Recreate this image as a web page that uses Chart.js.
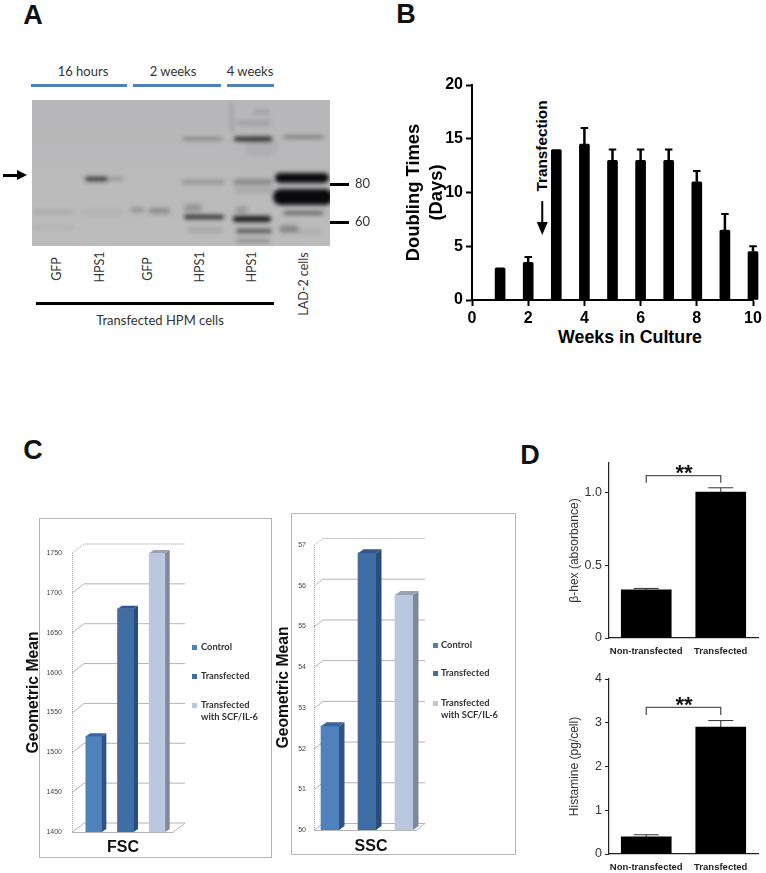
<!DOCTYPE html>
<html>
<head>
<meta charset="utf-8">
<script src="https://cdn.jsdelivr.net/npm/chart.js@4"></script>
<style>
	html, body { margin: 0; padding: 0; background: #fff; }
	#page { position: relative; width: 766px; height: 873px; overflow: hidden; }
	#page canvas { position: absolute; }
	.txt { position: absolute; white-space: nowrap; line-height: 1; }
	.box { position: absolute; box-sizing: border-box; }
</style>
</head>
<body>
<div id="page"></div>
<script>
// Panel A: blot bands, positions
const blotLanes = ["GFP", "HPS1", "GFP", "HPS1", "HPS1", "LAD-2 cells"];
const sizeMarkers = ["80", "60"];
const sizeMarkerPos = [84, 122];
const bandStart = [55, 73, 101, 120, 3, 3, 53, 152, 152, 154, 156, 158, 204, 208, 223, 204, 206, 204, 206, 206, 206, 253, 248, 249, 253, 251, 268, 223];
const bandEnd = [73, 90, 110, 135, 40, 40, 88, 189, 190, 190, 166, 188, 238, 236, 236, 238, 238, 236, 238, 236, 213, 290, 292, 293, 290, 263, 288, 236];
const bandPos = [79, 79, 110, 111, 112, 127, 112, 39, 82, 117, 108, 130, 39, 23, 12, 82, 90, 119, 131, 141, 110, 37, 78, 97, 113, 129, 132, 46];
const bandDensity = [0.8, 0.35, 0.22, 0.25, 0.09, 0.06, 0.05, 0.5, 0.22, 0.85, 0.2, 0.12, 0.9, 0.12, 0.14, 0.3, 0.1, 0.9, 0.6, 0.25, 0.2, 0.4, 1, 1, 0.6, 0.3, 0.07, 0.06];
const bandSpread = [4, 2, 5, 6, 5, 4, 5, 2, 4, 4, 8, 5, 4, 6, 4, 5, 6, 6, 4, 4, 6, 3, 10, 16, 3, 7, 6, 20];
const speckleX = [199, 200, 199, 200, 200];
const speckleY = [6, 12, 18, 24, 30];

// Panel B
const weeks = [1, 2, 3, 4, 5, 6, 7, 8, 9, 10];
const doublingTimes = [3, 3.5, 14, 14.5, 13, 13, 13, 11, 6.5, 4.5];
const doublingTops = [null, 4, null, 16, 14, 14, 14, 12, 8, 5];

// Panel C
const legendLabels = ["Control", "Transfected", "Transfected\nwith SCF/IL-6"];
const fscValues = [1520, 1680, 1750];
const sscValues = [52.55, 56.8, 55.77];

// Panel D
const groupLabels = ["Non-transfected", "Transfected"];
const hexValues = [0.33, 1.0];
const hexTops = [0.34, 1.03];
const histamineValues = [0.39, 2.9];
const histamineTops = [0.44, 3.05];

const ARIAL = "'Liberation Sans', Arial, sans-serif";
const CALIBRI = "Lato, 'Open Sans', sans-serif";
const BAR_FRONT = ["#4f81bd", "#3f6ea5", "#b9c8e0"];
const BAR_SIDE = ["#30527f", "#2c4c7a", "#7f8898"];
const BAR_TOP = ["#3a659c", "#31568a", "#9aa3b3"];

const page = document.getElementById("page");

function addText(text, cx, cy, font, color, rotate) {
	const el = document.createElement("div");
	el.className = "txt";
	el.textContent = text;
	el.style.left = cx + "px";
	el.style.top = cy + "px";
	el.style.font = font;
	el.style.lineHeight = "1";
	el.style.color = color || "#222";
	el.style.transform = `translate(-50%,-50%) rotate(${rotate || 0}deg)`;
	page.appendChild(el);
}

function addBox(left, top, width, height, color, border) {
	const el = document.createElement("div");
	el.className = "box";
	el.style.left = left + "px";
	el.style.top = top + "px";
	el.style.width = width + "px";
	el.style.height = height + "px";
	if (color) el.style.background = color;
	if (border) el.style.border = border;
	page.appendChild(el);
	return el;
}

function addChart(left, top, width, height, config) {
	const canvas = document.createElement("canvas");
	canvas.width = width;
	canvas.height = height;
	canvas.style.left = left + "px";
	canvas.style.top = top + "px";
	canvas.style.width = width + "px";
	canvas.style.height = height + "px";
	page.appendChild(canvas);
	config.options.responsive = false;
	config.options.animation = false;
	return new Chart(canvas.getContext("2d"), config);
}

// Pins an axis to a set thickness so the plot area lands where it should
function pinAxis(size) {
	return scale => {
		if (scale.isHorizontal()) scale.height = size;
		else scale.width = size;
		scale.paddingTop = 0;
		scale.paddingBottom = 0;
		scale.paddingLeft = 0;
		scale.paddingRight = 0;
	};
}

// Grey membrane behind the blot, blur on the bands
const blotPlugin = {
	id: "blot",
	beforeDatasetsDraw(chart) {
		const { ctx, chartArea: a } = chart;
		const g = ctx.createLinearGradient(0, a.top, 0, a.bottom);
		g.addColorStop(0, "#b7b7b9");
		g.addColorStop(1, "#bcbcbc");
		ctx.fillStyle = g;
		ctx.fillRect(a.left, a.top, a.right - a.left, a.bottom - a.top);
		ctx.save();
		ctx.filter = "blur(2px)";
	},
	afterDatasetsDraw(chart) {
		chart.ctx.restore();
	},
};

// Error bars, upper side only, read from options.tops
const errorBarPlugin = {
	id: "errorBars",
	beforeDatasetsDraw(chart, args, opts) {
		if (!opts.tops) return;
		const { ctx, scales } = chart;
		ctx.save();
		ctx.strokeStyle = opts.color;
		chart.getDatasetMeta(0).data.forEach((bar, i) => {
			if (opts.tops[i] === null) return;
			const top = scales.y.getPixelForValue(opts.tops[i]);
			ctx.lineWidth = opts.stem;
			ctx.beginPath();
			ctx.moveTo(bar.x, bar.y);
			ctx.lineTo(bar.x, top);
			ctx.stroke();
			ctx.lineWidth = opts.cap;
			ctx.beginPath();
			ctx.moveTo(bar.x - opts.capWidth / 2, top);
			ctx.lineTo(bar.x + opts.capWidth / 2, top);
			ctx.stroke();
		});
		ctx.restore();
	},
};

// Significance bracket over the two bars in panel D
const bracketPlugin = {
	id: "bracket",
	afterDatasetsDraw(chart, args, opts) {
		if (opts.y === undefined) return;
		const { ctx, scales } = chart;
		const bars = chart.getDatasetMeta(0).data;
		const y = scales.y.getPixelForValue(opts.y);
		const leg = scales.y.getPixelForValue(opts.legY);
		ctx.save();
		ctx.strokeStyle = "#555";
		ctx.lineWidth = 1.3;
		ctx.beginPath();
		ctx.moveTo(bars[0].x, leg);
		ctx.lineTo(bars[0].x, y);
		ctx.lineTo(bars[1].x, y);
		ctx.lineTo(bars[1].x, leg);
		ctx.stroke();
		ctx.fillStyle = "#111";
		ctx.font = "bold 22px " + ARIAL;
		ctx.textAlign = "center";
		ctx.textBaseline = "middle";
		ctx.fillText("**", (bars[0].x + bars[1].x) / 2 + 0.5, y - 2);
		ctx.restore();
	},
};

// Transfection arrow in panel B, placed on the data scales
const arrowPlugin = {
	id: "dataArrow",
	afterDatasetsDraw(chart, args, opts) {
		if (opts.x === undefined) return;
		const { ctx, scales } = chart;
		const x = scales.x.getPixelForValue(opts.x);
		const from = scales.y.getPixelForValue(opts.from);
		const to = scales.y.getPixelForValue(opts.to);
		ctx.save();
		ctx.fillStyle = "#000";
		ctx.fillRect(x - 1, from, 2, to - from - 10);
		ctx.beginPath();
		ctx.moveTo(x - 5.5, to - 13);
		ctx.lineTo(x + 5.5, to - 13);
		ctx.lineTo(x, to);
		ctx.closePath();
		ctx.fill();
		ctx.restore();
	},
};

// Fake 3D for panel C: walls and floor behind, side and top faces on the bars
const depthPlugin = {
	id: "depth",
	beforeDatasetsDraw(chart, args, opts) {
		if (opts.dx === undefined) return;
		const { ctx, chartArea: a, scales } = chart;
		const fl = a.left + opts.insetLeft;
		const fr = a.right + opts.insetRight;
		const y0 = scales.y.getPixelForValue(scales.y.min);
		const y1 = scales.y.getPixelForValue(scales.y.max);
		ctx.save();
		ctx.lineWidth = 1;
		scales.y.ticks.forEach((t, i) => {
			const y = scales.y.getPixelForValue(t.value) + 0.5;
			const last = i === scales.y.ticks.length - 1;
			ctx.strokeStyle = last ? "#999" : "#b4b4b4";
			ctx.setLineDash(last ? [1, 1] : []);
			ctx.beginPath();
			ctx.moveTo(fl, y);
			ctx.lineTo(fl + opts.dx, y + opts.dy);
			ctx.lineTo(fr + opts.dx, y + opts.dy);
			if (i === 0) {
				ctx.moveTo(fl, y);
				ctx.lineTo(fr, y);
				ctx.lineTo(fr + opts.dx, y + opts.dy);
			}
			ctx.stroke();
		});
		ctx.strokeStyle = "#aaa";
		ctx.setLineDash([1, 1]);
		ctx.beginPath();
		ctx.moveTo(fl + 0.5, y0);
		ctx.lineTo(fl + 0.5, y1);
		ctx.stroke();
		ctx.restore();
	},
	afterDatasetsDraw(chart, args, opts) {
		if (opts.dx === undefined) return;
		const { ctx, chartArea: a } = chart;
		chart.getDatasetMeta(0).data.forEach((bar, i) => {
			const l = bar.x - bar.width / 2;
			const r = bar.x + bar.width / 2;
			ctx.fillStyle = BAR_SIDE[i];
			ctx.beginPath();
			ctx.moveTo(r, bar.y);
			ctx.lineTo(r + opts.barDx, bar.y + opts.barDy);
			ctx.lineTo(r + opts.barDx, a.bottom + opts.barDy);
			ctx.lineTo(r, a.bottom);
			ctx.closePath();
			ctx.fill();
			ctx.fillStyle = BAR_TOP[i];
			ctx.beginPath();
			ctx.moveTo(l, bar.y);
			ctx.lineTo(l + opts.barDx, bar.y + opts.barDy);
			ctx.lineTo(r + opts.barDx, bar.y + opts.barDy);
			ctx.lineTo(r, bar.y);
			ctx.closePath();
			ctx.fill();
		});
	},
};

Chart.register(errorBarPlugin, bracketPlugin, arrowPlugin, depthPlugin);

// ---------- Panel A ----------
function drawPanelA() {
	addText("A", 33, 15, "bold 27px " + ARIAL, "#111");

	addText("16 hours", 83, 71, "13px " + CALIBRI, "#333");
	addText("2 weeks", 173, 71, "13px " + CALIBRI, "#333");
	addText("4 weeks", 250, 71, "13px " + CALIBRI, "#333");
	addBox(31, 84, 96, 3, "#4f81bd");
	addBox(133, 84, 88, 3, "#4f81bd");
	addBox(227, 84, 47, 3, "#4f81bd");

	// Arrow at the HPS1 band
	addBox(3, 173.5, 17, 3.5, "#000");
	const head = addBox(17, 169.5, 0, 0);
	head.style.borderLeft = "10px solid #000";
	head.style.borderTop = "5.5px solid transparent";
	head.style.borderBottom = "5.5px solid transparent";

	const datasets = bandStart.map((start, i) => ({
		data: [{ x: start, y: bandPos[i] }, { x: bandEnd[i], y: bandPos[i] }],
		borderColor: `rgba(10,10,12,${bandDensity[i]})`,
		borderWidth: bandSpread[i],
		borderCapStyle: "round",
		pointRadius: 0,
	}));
	datasets.push({
		data: speckleX.map((x, i) => ({ x, y: speckleY[i] })),
		showLine: false,
		pointRadius: 0.9,
		pointBackgroundColor: "#333",
		pointBorderWidth: 0,
	});

	addChart(32, 100, 346, 150, {
		type: "line",
		data: { datasets },
		options: {
			layout: { autoPadding: false, padding: { bottom: 4 } },
			plugins: { legend: { display: false }, tooltip: { enabled: false } },
			scales: {
				x: { type: "linear", min: 0, max: 298, display: false },
				y: {
					type: "linear",
					position: "right",
					min: 0,
					max: 146,
					reverse: true,
					afterFit: pinAxis(48),
					afterBuildTicks: scale => {
						scale.ticks = sizeMarkerPos.map(value => ({ value }));
					},
					border: { display: false },
					grid: { drawOnChartArea: false, tickLength: 19, tickWidth: 3, tickColor: "#000" },
					ticks: {
						padding: 6,
						font: { family: CALIBRI, size: 13 },
						color: "#333",
						callback: (v, i) => sizeMarkers[i],
					},
				},
			},
		},
		plugins: [blotPlugin],
	});

	const laneX = [57, 100, 148, 200, 252];
	const laneY = [269, 267, 269, 267, 267];
	blotLanes.slice(0, 5).forEach((lane, i) => {
		addText(lane, laneX[i], laneY[i], "12.5px " + CALIBRI, "#333", -90);
	});
	addText(blotLanes[5], 304, 284, "12.5px " + CALIBRI, "#333", -90);

	addBox(36, 302, 238, 3, "#000");
	addText("Transfected HPM cells", 160, 320, "13px " + CALIBRI, "#333");
}

// ---------- Panel B ----------
function drawPanelB() {
	addText("B", 406, 14, "bold 27px " + ARIAL, "#111");
	addText("Weeks in Culture", 630, 338, "bold 17.8px " + ARIAL, "#000");
	addText("Transfection", 542, 146, "bold 15.3px " + ARIAL, "#000", -90);

	const axisFont = { family: ARIAL, size: 16, weight: "bold" };
	addChart(400, 75, 366, 255, {
		type: "bar",
		data: {
			datasets: [{
				data: weeks.map((w, i) => ({ x: w, y: doublingTimes[i] })),
				backgroundColor: "#000",
				barThickness: 10,
				borderRadius: 1.5,
				borderSkipped: "bottom",
				clip: false,
			}],
		},
		options: {
			layout: { padding: { top: 10, right: 13 } },
			plugins: {
				legend: { display: false },
				tooltip: { enabled: false },
				errorBars: { tops: doublingTops, color: "#000", stem: 2.5, cap: 2, capWidth: 7.5 },
				dataArrow: { x: 2.5, from: 9.2, to: 6.05 },
			},
			scales: {
				x: {
					type: "linear",
					min: 0,
					max: 10,
					offset: false,
					afterFit: pinAxis(30),
					border: { color: "#000", width: 2 },
					grid: { offset: false, drawOnChartArea: false, tickLength: 6, tickWidth: 2, tickColor: "#000" },
					ticks: { stepSize: 2, font: axisFont, color: "#000", padding: 3, maxRotation: 0 },
				},
				y: {
					min: 0,
					max: 20,
					afterFit: pinAxis(72),
					border: { color: "#000", width: 2 },
					grid: { drawOnChartArea: false, tickLength: 6, tickWidth: 2, tickColor: "#000" },
					ticks: { stepSize: 5, font: axisFont, color: "#000", padding: 3 },
					title: {
						display: true,
						text: ["Doubling Times", "(Days)"],
						font: { family: ARIAL, size: 18.4, weight: "bold", lineHeight: 1.25 },
						color: "#000",
						padding: { top: 2 },
					},
				},
			},
		},
	});
}

// ---------- Panel C ----------
function threeDChart(left, top, width, height, values, cfg) {
	addChart(left, top, width, height, {
		type: "bar",
		data: {
			labels: legendLabels,
			datasets: [{ data: values, backgroundColor: BAR_FRONT, barThickness: cfg.barWidth }],
		},
		options: {
			layout: { padding: cfg.padding },
			plugins: {
				legend: { display: false },
				tooltip: { enabled: false },
				depth: cfg.depth,
			},
			scales: {
				x: { display: false },
				y: {
					min: cfg.min,
					max: cfg.max,
					afterFit: pinAxis(cfg.axisWidth),
					border: { display: false },
					grid: { display: false, drawTicks: false },
					ticks: {
						stepSize: cfg.step,
						padding: cfg.tickPad,
						font: { family: ARIAL, size: 7 },
						color: "#444",
						callback: v => String(v),
					},
					title: {
						display: true,
						text: "Geometric Mean",
						font: { family: ARIAL, size: 15.7, weight: "bold", lineHeight: 1.1 },
						color: "#111",
						padding: { top: cfg.titlePad },
					},
				},
			},
		},
	});
}

function addLegend(squareX, textX, rows, secondLine) {
	legendLabels.forEach((label, i) => {
		addBox(squareX, rows[i] - 2.5, 5, 5, BAR_FRONT[i]);
		const lines = label.split("\n");
		lines.forEach((line, j) => {
			const el = document.createElement("div");
			el.className = "txt";
			el.textContent = line;
			el.style.font = "bold 9.3px " + CALIBRI;
			el.style.lineHeight = "1";
			el.style.color = "#333";
			el.style.left = textX + "px";
			el.style.top = (j ? secondLine : rows[i]) + "px";
			el.style.transform = "translateY(-50%)";
			page.appendChild(el);
		});
	});
}

function drawPanelC() {
	addText("C", 33, 450, "bold 27px " + ARIAL, "#111");

	addBox(39, 518, 233, 340, "#fff", "1px solid #b5b5b5");
	addBox(291, 513, 225, 342, "#fff", "1px solid #b5b5b5");

	threeDChart(24, 520, 240, 336, fscValues, {
		min: 1400, max: 1750, step: 50, barWidth: 16,
		axisWidth: 54, tickPad: 16, titlePad: 1.5,
		padding: { top: 33, bottom: 24, right: 91 },
		depth: { dx: 12, dy: -9.5, insetLeft: -6, insetRight: 0, barDx: 4.5, barDy: -3 },
	});
	threeDChart(274, 515, 240, 340, sscValues, {
		min: 50, max: 57, step: 1, barWidth: 18,
		axisWidth: 37.5, tickPad: 5.5, titlePad: 1.5,
		padding: { top: 30, bottom: 25, right: 91.5 },
		depth: { dx: 9, dy: -7, insetLeft: 2.5, insetRight: -6.5, barDx: 5.5, barDy: -4 },
	});

	addLegend(192, 201, [647, 676, 705], 717);
	addLegend(433, 441, [645, 673, 703], 715);

	addText("FSC", 123, 847, "bold 16px " + ARIAL, "#111");
	addText("SSC", 371, 846, "bold 16px " + ARIAL, "#111");
}

// ---------- Panel D ----------
function stackedBarChart(top, height, values, tops, cfg) {
	addChart(540, top, 226, height, {
		type: "bar",
		data: {
			labels: groupLabels,
			datasets: [{ data: values, backgroundColor: "#000", barThickness: 50 }],
		},
		options: {
			layout: { padding: { top: cfg.padTop, right: 8 } },
			plugins: {
				legend: { display: false },
				tooltip: { enabled: false },
				errorBars: { tops, color: "#333", stem: 1, cap: 1, capWidth: 25 },
				bracket: { y: cfg.bracketY, legY: cfg.legY },
			},
			scales: {
				x: {
					afterFit: pinAxis(cfg.axisHeight),
					border: { color: "#222", width: 1.2 },
					grid: { display: false },
					ticks: {
						font: { family: ARIAL, size: 9.5, weight: "bold" },
						color: "#222",
						padding: 0,
						maxRotation: 0,
						autoSkip: false,
					},
				},
				y: {
					min: 0,
					max: cfg.max,
					afterFit: pinAxis(69),
					border: { color: "#222", width: 1.2 },
					grid: { drawOnChartArea: false, tickLength: 4, tickWidth: 1, tickColor: "#222" },
					ticks: {
						stepSize: cfg.step,
						includeBounds: false,
						padding: 3,
						font: { family: ARIAL, size: 12.5 },
						color: "#333",
						callback: cfg.tickLabel,
					},
					title: {
						display: true,
						text: cfg.title,
						font: { family: ARIAL, size: 12 },
						color: "#333",
						padding: { top: 27 },
					},
				},
			},
		},
	});
}

function drawPanelD() {
	addText("D", 530, 455, "bold 27px " + ARIAL, "#111");

	stackedBarChart(453, 205, hexValues, hexTops, {
		padTop: 10, axisHeight: 20, max: 1.2, step: 0.5,
		bracketY: 1.114, legY: 1.065,
		title: "\u03b2-hex (absorbance)",
		tickLabel: v => (v === 0 ? "0" : v.toFixed(1)),
	});
	stackedBarChart(669, 204, histamineValues, histamineTops, {
		padTop: 10, axisHeight: 19, max: 4, step: 1,
		bracketY: 3.35, legY: 3.18,
		title: "Histamine (pg/cell)",
		tickLabel: v => v,
	});
}

drawPanelA();
drawPanelB();
drawPanelC();
drawPanelD();
</script>
</body>
</html>
